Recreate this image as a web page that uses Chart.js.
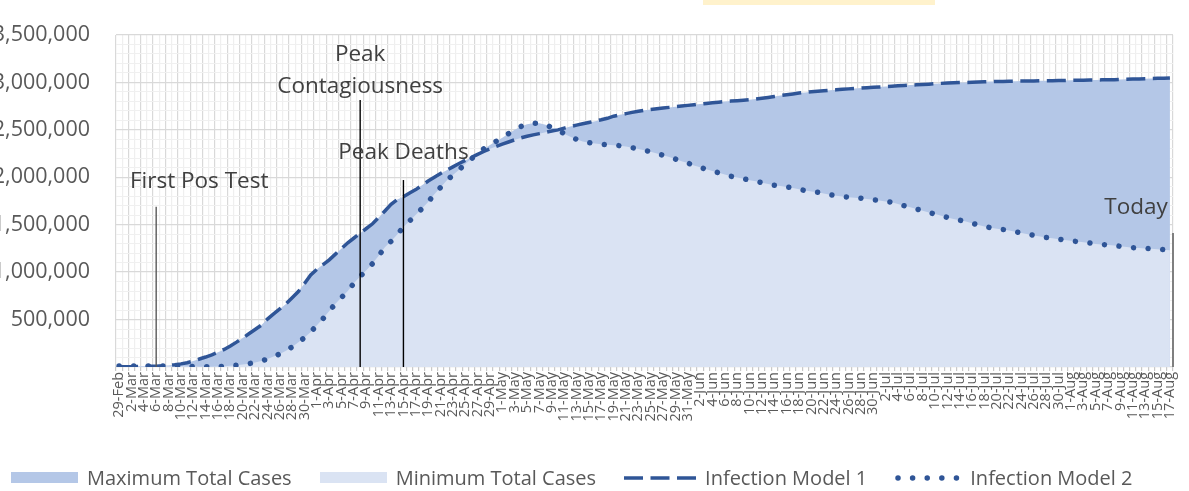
<!DOCTYPE html>
<html>
<head>
<meta charset="utf-8">
<script src="https://cdn.jsdelivr.net/npm/chart.js@4.4.1/dist/chart.umd.min.js"></script>
<style>
    html, body { margin: 0; padding: 0; background: #ffffff; }
    #wrap { position: relative; width: 1189px; height: 491px; overflow: hidden; font-family: "Open Sans", sans-serif; }
    #casesChart { position: absolute; left: 0; top: 0; }
    #topBox { position: absolute; left: 703px; top: 0; width: 232px; height: 5px; background: #fff2cc; }
    #legend { position: absolute; left: 11px; top: 466px; height: 24px; display: flex; align-items: center; font-size: 20px; line-height: 24px; color: #595959; white-space: nowrap; }
    #legend .item { display: flex; align-items: center; margin-right: 28px; }
    #legend canvas { margin-right: 9px; }
</style>
</head>
<body>
<div id="wrap">
    <canvas id="casesChart" width="1189" height="491"></canvas>
    <div id="topBox"></div>
    <div id="legend"></div>
</div>
<script>
var dates = [
    '29-Feb',
    '1-Mar', '2-Mar', '3-Mar', '4-Mar', '5-Mar', '6-Mar', '7-Mar', '8-Mar', '9-Mar', '10-Mar',
    '11-Mar', '12-Mar', '13-Mar', '14-Mar', '15-Mar', '16-Mar', '17-Mar', '18-Mar', '19-Mar', '20-Mar',
    '21-Mar', '22-Mar', '23-Mar', '24-Mar', '25-Mar', '26-Mar', '27-Mar', '28-Mar', '29-Mar', '30-Mar', '31-Mar',
    '1-Apr', '2-Apr', '3-Apr', '4-Apr', '5-Apr', '6-Apr', '7-Apr', '8-Apr', '9-Apr', '10-Apr',
    '11-Apr', '12-Apr', '13-Apr', '14-Apr', '15-Apr', '16-Apr', '17-Apr', '18-Apr', '19-Apr', '20-Apr',
    '21-Apr', '22-Apr', '23-Apr', '24-Apr', '25-Apr', '26-Apr', '27-Apr', '28-Apr', '29-Apr', '30-Apr',
    '1-May', '2-May', '3-May', '4-May', '5-May', '6-May', '7-May', '8-May', '9-May', '10-May',
    '11-May', '12-May', '13-May', '14-May', '15-May', '16-May', '17-May', '18-May', '19-May', '20-May',
    '21-May', '22-May', '23-May', '24-May', '25-May', '26-May', '27-May', '28-May', '29-May', '30-May', '31-May',
    '1-Jun', '2-Jun', '3-Jun', '4-Jun', '5-Jun', '6-Jun', '7-Jun', '8-Jun', '9-Jun', '10-Jun',
    '11-Jun', '12-Jun', '13-Jun', '14-Jun', '15-Jun', '16-Jun', '17-Jun', '18-Jun', '19-Jun', '20-Jun',
    '21-Jun', '22-Jun', '23-Jun', '24-Jun', '25-Jun', '26-Jun', '27-Jun', '28-Jun', '29-Jun', '30-Jun',
    '1-Jul', '2-Jul', '3-Jul', '4-Jul', '5-Jul', '6-Jul', '7-Jul', '8-Jul', '9-Jul', '10-Jul',
    '11-Jul', '12-Jul', '13-Jul', '14-Jul', '15-Jul', '16-Jul', '17-Jul', '18-Jul', '19-Jul', '20-Jul',
    '21-Jul', '22-Jul', '23-Jul', '24-Jul', '25-Jul', '26-Jul', '27-Jul', '28-Jul', '29-Jul', '30-Jul', '31-Jul',
    '1-Aug', '2-Aug', '3-Aug', '4-Aug', '5-Aug', '6-Aug', '7-Aug', '8-Aug', '9-Aug', '10-Aug',
    '11-Aug', '12-Aug', '13-Aug', '14-Aug', '15-Aug', '16-Aug', '17-Aug'
];

// Infection Model 1 (dashed)
var model1 = [
    2000, 2000, 3000, 4000, 5000, 7000, 9000, 12000, 17000, 24000,
    33000, 45000, 62000, 84000, 105000, 128000, 155000, 185000, 222000, 262000,
    305000, 350000, 395000, 440000, 505000, 560000, 612000, 665000, 730000, 795000,
    880000, 970000, 1030000, 1080000, 1130000, 1190000, 1250000, 1310000, 1360000, 1410000,
    1460000, 1510000, 1575000, 1645000, 1715000, 1765000, 1795000, 1835000, 1870000, 1915000,
    1960000, 2000000, 2040000, 2075000, 2110000, 2145000, 2178000, 2210000, 2242000, 2272000,
    2300000, 2325000, 2350000, 2372000, 2395000, 2415000, 2432000, 2447000, 2460000, 2474000,
    2488000, 2500000, 2518000, 2535000, 2550000, 2564000, 2578000, 2592000, 2606000, 2622000,
    2644000, 2658000, 2671000, 2684000, 2696000, 2706000, 2715000, 2723000, 2730000, 2737000,
    2744000, 2751000, 2758000, 2765000, 2772000, 2779000, 2786000, 2792000, 2798000, 2803000,
    2808000, 2813000, 2818000, 2825000, 2833000, 2842000, 2852000, 2861000, 2870000, 2879000,
    2888000, 2895000, 2901000, 2907000, 2912000, 2917000, 2922000, 2927000, 2932000, 2936000,
    2940000, 2944000, 2948000, 2952000, 2956000, 2960000, 2964000, 2968000, 2972000, 2975000,
    2978000, 2982000, 2986000, 2990000, 2993000, 2996000, 2998000, 3000000, 3002000, 3005000,
    3008000, 3009000, 3010000, 3011000, 3012000, 3013000, 3014000, 3015000, 3016000, 3017000,
    3018000, 3019000, 3020000, 3021000, 3022000, 3023000, 3024000, 3025000, 3026000, 3027000,
    3028000, 3029000, 3031000, 3033000, 3035000, 3037000, 3039000, 3041000, 3043000, 3045000,
    3047000
];

// Infection Model 2 (dotted)
var model2 = [
    10000, 10000, 10000, 10000, 10000, 10000, 10000, 10000, 9000, 8000,
    7000, 5000, 4000, 3000, 3000, 3000, 4000, 7000, 12000, 18000,
    26000, 35000, 47000, 63000, 84000, 110000, 138000, 172000, 212000, 260000,
    310000, 370000, 440000, 510000, 590000, 668000, 735000, 800000, 885000, 955000,
    1020000, 1090000, 1172000, 1263000, 1325000, 1398000, 1475000, 1540000, 1605000, 1670000,
    1740000, 1820000, 1893000, 1965000, 2023000, 2080000, 2140000, 2195000, 2248000, 2300000,
    2340000, 2380000, 2418000, 2460000, 2500000, 2535000, 2558000, 2570000, 2570000, 2555000,
    2525000, 2498000, 2460000, 2428000, 2400000, 2378000, 2365000, 2355000, 2347000, 2342000,
    2338000, 2333000, 2324000, 2312000, 2298000, 2285000, 2268000, 2250000, 2233000, 2215000,
    2193000, 2170000, 2150000, 2125000, 2105000, 2085000, 2067000, 2048000, 2030000, 2010000,
    1997000, 1984000, 1970000, 1957000, 1943000, 1929000, 1916000, 1907000, 1898000, 1888000,
    1874000, 1860000, 1851000, 1843000, 1830000, 1816000, 1806000, 1797000, 1790000, 1784000,
    1780000, 1772000, 1762000, 1755000, 1746000, 1737000, 1718000, 1700000, 1683000, 1665000,
    1647000, 1630000, 1612000, 1595000, 1577000, 1561000, 1548000, 1533000, 1515000, 1497000,
    1482000, 1468000, 1458000, 1449000, 1440000, 1426000, 1413000, 1400000, 1387000, 1375000,
    1365000, 1357000, 1348000, 1339000, 1330000, 1322000, 1315000, 1307000, 1298000, 1292000,
    1287000, 1281000, 1272000, 1264000, 1258000, 1254000, 1250000, 1246000, 1242000, 1237000,
    1232000
];

// the two shaded areas are the envelope of the two models
var maxCases = model1.map(function (v, i) { return Math.max(v, model2[i]); });
var minCases = model1.map(function (v, i) { return Math.min(v, model2[i]); });

// vertical event markers
var markers = [
    { date: '6-Mar', top: 1690000, text: ['First Pos Test'], textAt: 1950000, dx: 43, color: '#595959' },
    { date: '8-Apr', top: 2815000, text: ['Peak', 'Contagiousness'], textAt: 2960000, dx: 0, color: '#000000' },
    { date: '15-Apr', top: 1971000, text: ['Peak Deaths'], textAt: 2256000, dx: 0, color: '#000000' },
    { date: '17-Aug', top: 1413000, text: ['Today'], textAt: 1676000, dx: -37, color: '#7f7f7f', atEnd: true }
];

Chart.defaults.font.family = '"Open Sans", sans-serif';
Chart.defaults.color = '#595959';

var markerPlugin = {
    id: 'markers',
    afterDatasetsDraw: function (chart) {
        var c = chart.ctx;
        var xs = chart.scales.x;
        var ys = chart.scales.y;
        markers.forEach(function (m) {
            var x = m.atEnd ? chart.chartArea.right : xs.getPixelForValue(dates.indexOf(m.date));
            var yTop = ys.getPixelForValue(m.top);
            var yText = ys.getPixelForValue(m.textAt);
            c.save();
            c.strokeStyle = m.color;
            c.lineWidth = m.atEnd ? 2 : 1.4;
            c.beginPath();
            c.moveTo(x, yTop);
            c.lineTo(x, chart.chartArea.bottom);
            c.stroke();
            c.fillStyle = '#404040';
            c.font = '22.5px "Open Sans"';
            c.textAlign = 'center';
            c.textBaseline = 'middle';
            for (var k = 0; k < m.text.length; k++) {
                c.fillText(m.text[k], x + m.dx, yText - (m.text.length - 1 - k) * 32);
            }
            c.restore();
        });
    }
};

var ctx = document.getElementById('casesChart').getContext('2d');
var casesChart = new Chart(ctx, {
    type: 'line',
    data: {
        labels: dates,
        datasets: [
            {
                label: 'Maximum Total Cases',
                data: maxCases,
                backgroundColor: '#b4c7e7',
                borderColor: 'rgba(0,0,0,0)',
                borderWidth: 0,
                pointRadius: 0,
                fill: 'origin',
                order: 4
            },
            {
                label: 'Minimum Total Cases',
                data: minCases,
                backgroundColor: '#dae3f3',
                borderColor: 'rgba(0,0,0,0)',
                borderWidth: 0,
                pointRadius: 0,
                fill: 'origin',
                order: 3
            },
            {
                label: 'Infection Model 1',
                data: model1,
                borderColor: '#2f5597',
                backgroundColor: '#2f5597',
                borderWidth: 3.5,
                borderDash: [19, 7.5],
                pointRadius: 0,
                fill: false,
                order: 2
            },
            {
                label: 'Infection Model 2',
                data: model2,
                borderColor: '#2f5597',
                backgroundColor: '#2f5597',
                borderWidth: 5.5,
                borderDash: [0.01, 14.6],
                borderCapStyle: 'round',
                borderJoinStyle: 'round',
                pointRadius: 0,
                fill: false,
                order: 1
            }
        ]
    },
    options: {
        responsive: false,
        animation: false,
        devicePixelRatio: 1,
        layout: {
            padding: { top: 35, right: 16, bottom: 64, left: 0 }
        },
        plugins: {
            legend: { display: false },
            tooltip: { enabled: false }
        },
        scales: {
            x: {
                offset: true,
                border: { display: false },
                grid: {
                    offset: true,
                    lineWidth: 1.2,
                    tickLength: 4,
                    tickColor: '#c8c8c8',
                    color: function (c) {
                        if (c.index === undefined) return '#d9d9d9';
                        return c.index % 2 === 0 ? '#d9d9d9' : '#efefef';
                    }
                },
                ticks: {
                    autoSkip: false,
                    minRotation: 90,
                    maxRotation: 90,
                    padding: 1,
                    color: '#595959',
                    font: { size: 14.5 },
                    callback: function (value, index) {
                        return index % 2 === 0 ? dates[index] : '';
                    }
                },
                afterFit: function (scale) {
                    scale.height = 60;
                }
            },
            y: {
                min: 0,
                max: 3500000,
                border: { display: false },
                grid: {
                    // invisible tick marks give the gap between labels and plot
                    drawTicks: true,
                    tickLength: 26,
                    tickColor: 'rgba(0,0,0,0)',
                    color: function (c) {
                        return c.tick && c.tick.value % 500000 === 0 ? '#d9d9d9' : '#f0f0f0';
                    },
                    lineWidth: function (c) {
                        return c.tick && c.tick.value % 500000 === 0 ? 1.3 : 1;
                    }
                },
                ticks: {
                    autoSkip: false,
                    stepSize: 100000,
                    padding: 0,
                    color: '#595959',
                    font: { size: 21.5 },
                    callback: function (value) {
                        if (value > 0 && value % 500000 === 0) {
                            return value.toLocaleString('en-US');
                        }
                        return '';
                    }
                },
                afterFit: function (scale) {
                    scale.width = 116;
                }
            }
        }
    },
    plugins: [markerPlugin]
});

// html legend built from the datasets
function buildLegend(chart) {
    var box = document.getElementById('legend');
    chart.data.datasets.forEach(function (ds) {
        var item = document.createElement('div');
        item.className = 'item';
        var sample = document.createElement('canvas');
        var isArea = ds.fill === 'origin';
        var isDots = ds.borderCapStyle === 'round';
        sample.width = isArea ? 67 : (isDots ? 66 : 72);
        sample.height = 14;
        var sc = sample.getContext('2d');
        if (isArea) {
            sc.fillStyle = ds.backgroundColor;
            sc.fillRect(0, 1, sample.width, 11);
        } else {
            sc.strokeStyle = ds.borderColor;
            sc.lineWidth = ds.borderWidth;
            sc.lineCap = isDots ? 'round' : 'butt';
            sc.setLineDash(ds.borderDash);
            sc.beginPath();
            sc.moveTo(isDots ? 3 : 0, 7);
            sc.lineTo(sample.width, 7);
            sc.stroke();
        }
        var label = document.createElement('span');
        label.textContent = ds.label;
        item.appendChild(sample);
        item.appendChild(label);
        box.appendChild(item);
    });
}
buildLegend(casesChart);
</script>
</body>
</html>
